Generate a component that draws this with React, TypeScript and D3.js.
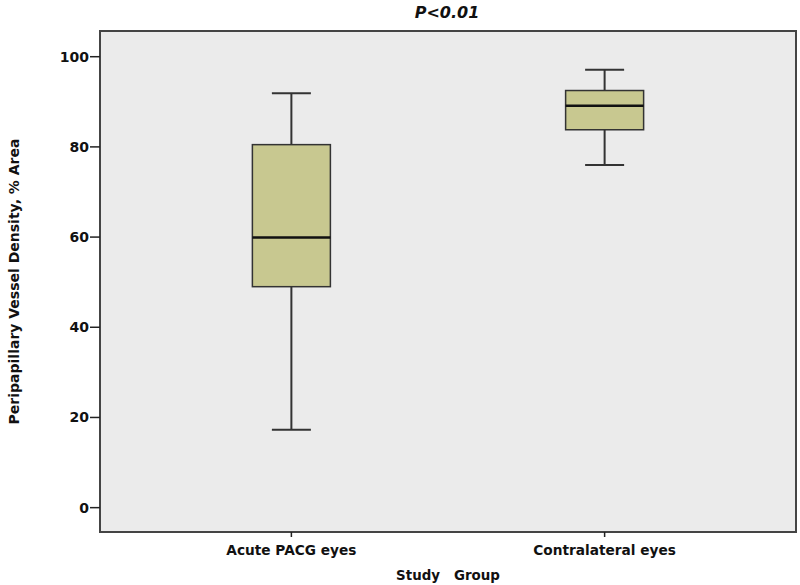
import React from "react";
import * as d3 from "d3";

const categories = ["Acute PACG eyes", "Contralateral eyes"];
const whiskerLow = [17.3, 76.0];
const q1 = [49.0, 83.8];
const medians = [59.9, 89.1];
const q3 = [80.5, 92.5];
const whiskerHigh = [91.9, 97.1];
const yTicks = [0, 20, 40, 60, 80, 100];

const W = 800;
const H = 585;
const left = 100;
const right = 796;
const top = 31;
const bottom = 532;

export default function App() {
  const y = d3.scaleLinear().domain([-5.4, 105.7]).range([bottom, top]);
  const x = d3.scalePoint<string>().domain(categories).range([left, right]).padding(0.611);
  const boxW = 78;
  const capW = 39;
  const font = "'DejaVu Sans', Verdana, sans-serif";
  const data = categories.map((c, i) => ({
    c,
    lo: whiskerLow[i],
    q1: q1[i],
    med: medians[i],
    q3: q3[i],
    hi: whiskerHigh[i],
  }));
  return (
    <svg width={W} height={H} style={{ position: "absolute", left: 0, top: 0, background: "#fff" }}>
      <rect x={left} y={top} width={right - left} height={bottom - top} fill="#ebebeb" stroke="#444" strokeWidth={2} />
      {yTicks.map((t) => (
        <g key={t}>
          <line x1={left - 10} x2={left} y1={y(t)} y2={y(t)} stroke="#222" strokeWidth={1.5} />
          <text x={left - 11} y={y(t)} dy="0.36em" textAnchor="end" fontFamily={font} fontWeight={700} fontSize={14} fill="#111">
            {t}
          </text>
        </g>
      ))}
      {data.map((d) => {
        const cx = x(d.c)!;
        return (
          <g key={d.c}>
            <line x1={cx} x2={cx} y1={y(d.hi)} y2={y(d.q3)} stroke="#333" strokeWidth={2} />
            <line x1={cx} x2={cx} y1={y(d.q1)} y2={y(d.lo)} stroke="#333" strokeWidth={2} />
            <line x1={cx - capW / 2} x2={cx + capW / 2} y1={y(d.hi)} y2={y(d.hi)} stroke="#333" strokeWidth={2} />
            <line x1={cx - capW / 2} x2={cx + capW / 2} y1={y(d.lo)} y2={y(d.lo)} stroke="#333" strokeWidth={2} />
            <rect x={cx - boxW / 2} y={y(d.q3)} width={boxW} height={y(d.q1) - y(d.q3)} fill="#c8c890" stroke="#333" strokeWidth={1.5} />
            <line x1={cx - boxW / 2} x2={cx + boxW / 2} y1={y(d.med)} y2={y(d.med)} stroke="#111" strokeWidth={2.5} />
            <line x1={cx} x2={cx} y1={bottom} y2={bottom + 5} stroke="#222" strokeWidth={1.5} />
            <text x={cx} y={555} textAnchor="middle" fontFamily={font} fontWeight={700} fontSize={13.7} fill="#111">
              {d.c}
            </text>
          </g>
        );
      })}
      <text x={448} y={580} textAnchor="middle" fontFamily={font} fontWeight={700} fontSize={13.4} fill="#111" style={{ whiteSpace: "pre" }}>
        {"Study   Group"}
      </text>
      <text transform={`translate(19,${(top + bottom) / 2}) rotate(-90)`} textAnchor="middle" fontFamily={font} fontWeight={700} fontSize={14} fill="#111">
        Peripapillary Vessel Density, % Area
      </text>
      <text x={447} y={18} textAnchor="middle" fontFamily={font} fontWeight={700} fontStyle="italic" fontSize={16} fill="#111">
        P&lt;0.01
      </text>
    </svg>
  );
}
